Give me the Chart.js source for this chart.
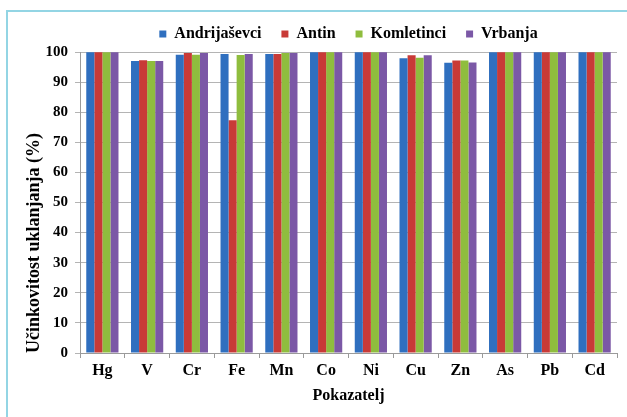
<!DOCTYPE html>
<html lang="hr">
<head>
  <meta charset="UTF-8" />
  <title>Učinkovitost uklanjanja</title>
  <script src="https://cdn.jsdelivr.net/npm/chart.js"></script>
  <style>
    html,body{margin:0;padding:0;background:#fff;overflow:hidden}
    .frame{position:absolute;left:6px;top:10px;width:700px;height:500px;border-top:2px solid #93d5e4;border-left:2px solid #93d5e4}
    .wrap{position:absolute;left:0;top:0;width:627px;height:417px}
  </style>
</head>
<body>
  <div class="frame"></div>
  <div class="wrap"><canvas id="c" width="627" height="417"></canvas></div>

<script>
// --- data -----------------------------------------------------------------
const categories=['Hg','V','Cr','Fe','Mn','Co','Ni','Cu','Zn','As','Pb','Cd'];
const seriesNames=['Andrijaševci','Antin','Komletinci','Vrbanja'];
const andrijasevci=[99.9,97.0,99.1,99.3,99.3,99.9,99.9,97.9,96.4,99.9,99.9,99.9];
const antin       =[99.9,97.3,99.7,77.3,99.3,99.9,99.9,98.9,97.2,99.9,99.9,99.9];
const komletinci  =[99.9,97.0,99.1,99.0,99.7,99.9,99.9,98.1,97.2,99.9,99.9,99.9];
const vrbanja     =[99.9,97.0,99.7,99.3,99.7,99.9,99.9,98.9,96.5,99.9,99.9,99.9];
const colors=['#2f6fbf','#c83a37','#8fbd3e','#7b58a6'];
const yTitle='Učinkovitost uklanjanja (%)';
const xTitle='Pokazatelj';

// --- chart ----------------------------------------------------------------
const font={family:'"Liberation Serif","Times New Roman",serif',size:16,weight:'bold'};
const values=[andrijasevci,antin,komletinci,vrbanja];

// keep the legend centred over the plot area, as in the original
const legendShift={
  id:'legendShift',
  afterLayout(chart){
    const lg=chart.legend, ca=chart.chartArea;
    const d=(ca.left+ca.right)/2-(lg.left+lg.right)/2;
    lg.left+=d; lg.right+=d;
  }
};

new Chart(document.getElementById('c'),{
  type:'bar',
  data:{
    labels:categories,
    datasets:seriesNames.map((n,i)=>({
      label:n,data:values[i],backgroundColor:colors[i],borderWidth:0,
      categoryPercentage:0.72,barPercentage:1
    }))
  },
  options:{
    responsive:false,animation:false,
    layout:{padding:{top:6,left:6,right:10,bottom:12}},
    plugins:{
      legend:{position:'top',labels:{font:font,color:'#000',boxWidth:7,boxHeight:7,padding:20}},
      tooltip:{enabled:false}
    },
    scales:{
      x:{
        grid:{drawOnChartArea:false,drawTicks:true,tickLength:5,color:'#9a9a9a'},
        border:{color:'#9a9a9a'},
        ticks:{font:font,color:'#000',padding:3},
        title:{display:true,text:xTitle,font:font,color:'#000',padding:{top:0,bottom:0}},
        afterFit(s){s.height=52;}
      },
      y:{
        min:0,max:100,
        ticks:{stepSize:10,font:{...font,size:15},color:'#000',padding:7},
        grid:{color:'#b4b4b4',tickLength:5},
        border:{color:'#9a9a9a'},
        title:{display:true,text:yTitle,font:{...font,size:18},color:'#000',align:'start',padding:{top:18,bottom:0}},
        afterFit(s){s.width=74;}
      }
    }
  },
  plugins:[legendShift]
});
</script>
</body>
</html>
